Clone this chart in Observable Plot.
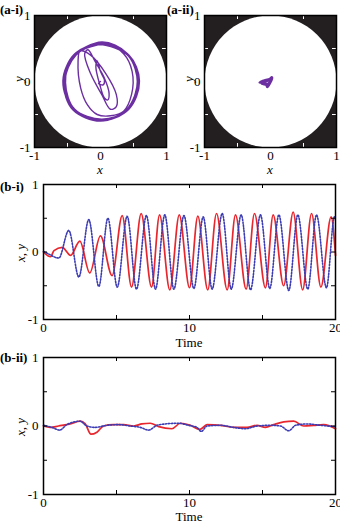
<!DOCTYPE html>
<html>
<head>
<meta charset="utf-8">
<script src="https://cdn.jsdelivr.net/npm/d3@7"></script>
<script src="https://cdn.jsdelivr.net/npm/@observablehq/plot@0.6"></script>
<style>
  html, body { margin: 0; padding: 0; background: #fff; }
  #root { position: relative; width: 340px; height: 526px; overflow: hidden; font-family: "Liberation Serif", "Times New Roman", serif; color: #000; }
  #root svg { position: absolute; overflow: visible; }
  .lbl { position: absolute; font-size: 13px; line-height: 1; white-space: nowrap; }
  .tag { font-weight: bold; }
  .it { font-style: italic; }
</style>
</head>
<body>
<div id="root"></div>
<script>
// ---------- data ----------
const axisTicksA = [-1, 0, 1];
const minorTicksA = [-0.5, 0, 0.5];
const axisTicksTime = [0, 10, 20];
const minorTicksTime = [5, 10, 15];
const axisTicksXY = [-1, 0, 1];
const minorTicksXY = [-0.5, 0, 0.5];

// (a-i) trajectory (x, y)
const trajA1 = [
  [0,0],[-0.03,-0.03],[0.04,-0.05],[0.06,0.02],[0.0,0.15],[-0.05,0.31],[-0.07,0.22],[-0.01,-0.05],
  [0.06,-0.25],[0.11,-0.28],[0.13,-0.18],[0.06,0.05],[-0.08,0.3],[-0.19,0.48],[-0.24,0.42],[-0.15,0.12],
  [0.02,-0.2],[0.15,-0.42],[0.24,-0.38],[0.24,-0.2],[0.08,0.12],[-0.15,0.4],[-0.31,0.46],[-0.34,0.3],
  [-0.3,-0.1],[-0.2,-0.35],[-0.05,-0.5],[0.15,-0.52],[0.35,-0.45],[0.47,-0.2],[0.48,0.15],[0.35,0.42],[0.1,0.56],
  [-0.38,0.41],[-0.54,0.03],[-0.41,-0.41],[-0.01,-0.58],[0.41,-0.43],[0.56,-0.03],[0.42,0.39],[0.03,0.57],
  [-0.4,0.4],[-0.57,0.0],[-0.4,-0.44],[0.02,-0.6],[0.42,-0.41],[0.57,0.02],[0.4,0.42],[-0.01,0.58],
  [-0.37,0.42],[-0.55,0.04],[-0.42,-0.42],[0.0,-0.6],[0.43,-0.42],[0.59,0.0],[0.42,0.41],[0.02,0.59],
  [-0.41,0.39],[-0.53,-0.02],[-0.38,-0.44],[0.03,-0.58],[0.4,-0.44],[0.56,0.03],[0.43,0.38],[-0.02,0.56],
  [-0.39,0.42],[-0.57,0.01],[-0.41,-0.41],[0.0,-0.59],[0.43,-0.4],[0.58,-0.02],[0.4,0.43],[0.02,0.6],
  [-0.37,0.4],[-0.54,0.0],[-0.39,-0.42],[0.02,-0.57],[0.41,-0.43],[0.59,0.01],[0.43,0.4],[0.0,0.57],
  [-0.4,0.41],[-0.56,-0.02],[-0.42,-0.43],[0.02,-0.6],[0.4,-0.42],[0.56,0.0],[0.41,0.42],[0.0,0.58],[-0.38,0.41]
];

// (a-ii) trajectory (x, y)
const trajA2 = [
  [0,0],[-0.05,0.02],[-0.15,0.0],[-0.17,-0.02],[-0.08,-0.03],[-0.05,-0.09],[0.0,-0.02],[0.03,0.06],
  [-0.02,0.04],[-0.1,0.02],[-0.14,-0.03],[-0.06,-0.06],[-0.05,-0.08],[0.01,0.0],[0.02,0.07],[-0.03,0.03],
  [-0.12,0.01],[-0.09,-0.04],[-0.03,-0.05],[0.02,0.03],[-0.04,0.01],[-0.1,-0.01],[-0.04,-0.03],[0.0,0.02]
];

// (b-i) time series: [time, value]
const redB1 = [
  [0,0],[0.48,-0.07],[0.72,0.02],[1.28,0.07],[1.85,-0.05],[2.49,0.16],[3.17,-0.31],[3.9,0.24],[4.7,-0.35],
  [5.39,0.54],[6.03,-0.52],[6.69,0.57],[7.4,-0.52],[7.95,0.55],[8.65,-0.56],[9.3,0.55],[10.0,-0.53],
  [10.57,0.53],[11.25,-0.56],[11.85,0.57],[12.58,-0.56],[13.15,0.55],[13.88,-0.55],[14.45,0.57],
  [15.2,-0.53],[15.73,0.55],[16.45,-0.5],[17.1,0.59],[17.75,-0.56],[18.36,0.57],[19.0,-0.52],[19.7,0.52],[20,-0.05]
];
const blueB1 = [
  [0,0.01],[0.35,-0.03],[1.05,-0.09],[1.73,0.32],[2.42,-0.37],[3.1,0.48],[3.79,-0.51],[4.41,0.5],
  [5.05,-0.52],[5.73,0.53],[6.37,-0.55],[7.05,0.54],[7.67,-0.55],[8.31,0.55],[8.93,-0.55],[9.62,0.54],
  [10.3,-0.54],[10.94,0.52],[11.55,-0.55],[12.24,0.57],[12.86,-0.55],[13.54,0.55],[14.18,-0.56],[14.86,0.55],
  [15.5,-0.54],[16.12,0.55],[16.8,-0.57],[17.42,0.55],[18.1,-0.55],[18.7,0.55],[19.38,-0.53],[19.93,0.52],[20,0.5]
];

// (b-ii) time series: [time, value]
const redB2 = [
  [0,0],[0.46,-0.02],[1.03,0],[1.83,0.03],[2.51,0.07],[2.86,0.03],[3.25,-0.12],[3.66,-0.09],[4.11,0],
  [4.8,0.02],[5.49,0.02],[6.17,0],[6.74,0.03],[7.31,0.04],[7.89,-0.01],[8.8,-0.04],[9.37,0.04],[10.06,0.01],
  [10.7,-0.05],[11.2,0.02],[12.11,0.01],[13.03,-0.02],[13.94,-0.02],[14.63,0.01],[15.2,-0.02],[15.77,0.02],
  [16.46,0.06],[17.14,0.07],[17.83,0],[18.51,0.01],[19.2,0.02],[20,-0.04]
];
const blueB2 = [
  [0,0.01],[0.57,-0.02],[1.1,-0.06],[1.6,0.02],[2.5,0.07],[2.97,0],[3.54,-0.02],[4.34,0.01],[5.14,0.02],
  [5.94,0],[6.63,-0.02],[7.2,-0.06],[7.77,0.01],[8.34,0.03],[9.26,0.04],[9.94,0.01],[10.51,-0.02],[10.8,-0.08],
  [11.2,0],[12.1,0.01],[13.03,-0.02],[13.83,-0.04],[14.63,0],[15.54,0.01],[16.23,0],[16.8,-0.07],[17.26,0.01],
  [18.06,0.03],[18.97,0.01],[20,-0.01]
];

// ---------- styles ----------
const PURPLE = "#6b2fa1";
const RED = "#e8262d";
const BLUE = "#3b3bb3";
const DARK = "#231f20";
const FONT = "Liberation Serif, Times New Roman, serif";

const root = document.getElementById("root");

function place(el, left, top) {
  el.style.left = left + "px";
  el.style.top = top + "px";
  root.appendChild(el);
}
function label(text, x, y, cls, rotate) {
  const d = document.createElement("div");
  d.className = "lbl " + (cls || "");
  d.textContent = text;
  d.style.left = x + "px";
  d.style.top = y + "px";
  d.style.transform = "translate(-50%,-50%)" + (rotate ? " rotate(-90deg)" : "");
  root.appendChild(d);
}
function tagLabel(text, x, yc) {
  const d = document.createElement("div");
  d.className = "lbl tag";
  d.textContent = text;
  d.style.left = x + "px";
  d.style.top = yc + "px";
  d.style.transform = "translateY(-50%)";
  root.appendChild(d);
}

function phasePanel(traj, lw) {
  const W = 170, H = 180, mL = 34, mR = 4, mT = 14, mB = 34;
  const fw = W - mL - mR, fh = H - mT - mB;
  const tl = 4;
  return Plot.plot({
    width: W, height: H, marginLeft: mL, marginRight: mR, marginTop: mT, marginBottom: mB,
    x: {domain: [-1, 1]},
    y: {domain: [-1, 1]},
    r: {type: "linear", domain: [0, 1], range: [0, fw / 2]},
    style: {fontFamily: FONT, fontSize: "13px", color: "#000", background: "transparent"},
    marks: [
      Plot.frame({fill: DARK}),
      Plot.dot([{cx: 0, cy: 0, rad: 1}], {x: "cx", y: "cy", r: "rad", fill: "white", stroke: null}),
      Plot.line(traj, {x: d => d[0], y: d => d[1], stroke: PURPLE, strokeWidth: lw, curve: "catmull-rom"}),
      Plot.tickX(minorTicksA, {x: d => d, stroke: "white", strokeWidth: 1, insetTop: fh - tl}),
      Plot.tickX(minorTicksA, {x: d => d, stroke: "white", strokeWidth: 1, insetBottom: fh - tl}),
      Plot.tickY(minorTicksA, {y: d => d, stroke: "white", strokeWidth: 1, insetRight: fw - tl}),
      Plot.tickY(minorTicksA, {y: d => d, stroke: "white", strokeWidth: 1, insetLeft: fw - tl}),
      Plot.axisX({ticks: axisTicksA, tickSize: 0, tickPadding: 3, tickFormat: d => String(d), label: null}),
      Plot.axisY({ticks: axisTicksA, tickSize: 0, tickPadding: 4, tickFormat: d => String(d), label: null}),
      Plot.frame({stroke: "#000", strokeWidth: 1.5})
    ]
  });
}

function timePanel(red, blue, H, mT, mB) {
  const W = 340, mL = 43, mR = 5;
  const fw = W - mL - mR, fh = H - mT - mB;
  const tl = 4;
  return Plot.plot({
    width: W, height: H, marginLeft: mL, marginRight: mR, marginTop: mT, marginBottom: mB,
    x: {domain: [0, 20]},
    y: {domain: [-1, 1]},
    style: {fontFamily: FONT, fontSize: "13px", color: "#000", background: "transparent"},
    marks: [
      Plot.line(red, {x: d => d[0], y: d => d[1], stroke: RED, strokeWidth: 1.7, curve: "monotone-x"}),
      Plot.line(blue, {x: d => d[0], y: d => d[1], stroke: BLUE, strokeWidth: 1.6, strokeDasharray: "1.4,1.6", curve: "monotone-x"}),
      Plot.tickX(minorTicksTime, {x: d => d, stroke: "#000", strokeWidth: 1, insetTop: fh - tl}),
      Plot.tickX(minorTicksTime, {x: d => d, stroke: "#000", strokeWidth: 1, insetBottom: fh - tl}),
      Plot.tickY(minorTicksXY, {y: d => d, stroke: "#000", strokeWidth: 1, insetRight: fw - tl}),
      Plot.tickY(minorTicksXY, {y: d => d, stroke: "#000", strokeWidth: 1, insetLeft: fw - tl}),
      Plot.axisX({ticks: axisTicksTime, tickSize: 0, tickPadding: 3, tickFormat: d => String(d), label: null}),
      Plot.axisY({ticks: axisTicksXY, tickSize: 0, tickPadding: 5, tickFormat: d => String(d), label: null}),
      Plot.frame({stroke: "#000", strokeWidth: 1.5})
    ]
  });
}

place(phasePanel(trajA1, 1.4), 0, 1);
place(phasePanel(trajA2, 1.8), 170, 1);
place(timePanel(redB1, blueB1, 180, 14, 31), 0, 170);
place(timePanel(redB2, blueB2, 181, 12, 32), 0, 345);

// panel tags
tagLabel("(a-i)", 0, 9);
tagLabel("(a-ii)", 167, 9);
tagLabel("(b-i)", 0, 186);
tagLabel("(b-ii)", 0, 357);

// axis titles
label("y", 18, 79, "it", true);
label("x", 100, 169, "it");
label("y", 188, 79, "it", true);
label("x", 270, 169, "it");
label("x, y", 20, 253, "it", true);
label("Time", 189, 342);
label("x, y", 20, 427, "it", true);
label("Time", 189, 516);
</script>
</body>
</html>
